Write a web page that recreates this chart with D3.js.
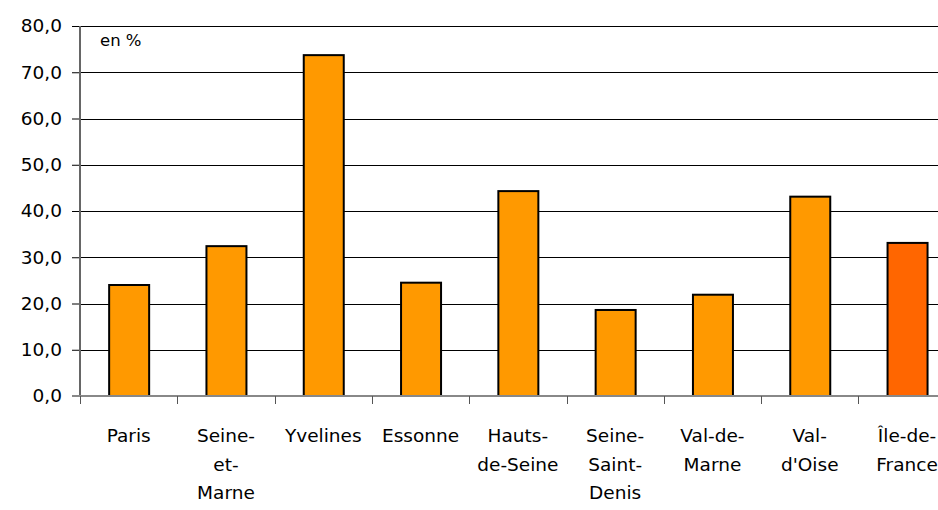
<!DOCTYPE html>
<html>
<head>
<meta charset="utf-8">
<script src="https://cdn.jsdelivr.net/npm/d3@7/dist/d3.min.js"></script>
<style>
body { margin: 0; background: #fff; }
text { font-family: "DejaVu Sans", Verdana, sans-serif; fill: #000; }
</style>
</head>
<body>
<script>
// data
var departements = ['Paris', 'Seine-et-Marne', 'Yvelines', 'Essonne', 'Hauts-de-Seine',
	'Seine-Saint-Denis', 'Val-de-Marne', "Val-d'Oise", 'Île-de-France'];
var labelLines = [['Paris'], ['Seine-', 'et-', 'Marne'], ['Yvelines'], ['Essonne'],
	['Hauts-', 'de-Seine'], ['Seine-', 'Saint-', 'Denis'], ['Val-de-', 'Marne'],
	['Val-', "d'Oise"], ['Île-de-', 'France']];
var valeurs = [24.0, 32.4, 73.7, 24.5, 44.3, 18.6, 21.9, 43.1, 33.1];
var yTicks = [0, 10, 20, 30, 40, 50, 60, 70, 80];

var width = 938, height = 510,
	plotLeft = 80, plotTop = 26, plotBottom = 396,
	band = 97.3;

var svg = d3.select('body').append('svg')
	.attr('width', width)
	.attr('height', height);

var x = d3.scaleBand()
	.domain(departements)
	.range([plotLeft, plotLeft + band * departements.length])
	.padding(0);

var y = d3.scaleLinear()
	.domain([0, 80])
	.range([plotBottom, plotTop]);

var fmt = function(d) { return d3.format('.1f')(d).replace('.', ','); };

// grid lines
svg.append('g')
	.selectAll('line')
	.data(yTicks.filter(function(d) { return d > 0; }))
	.join('line')
	.attr('x1', plotLeft).attr('x2', width)
	.attr('y1', function(d) { return Math.round(y(d)) + 0.5; })
	.attr('y2', function(d) { return Math.round(y(d)) + 0.5; })
	.attr('stroke', '#000')
	.attr('stroke-width', 1);

// y axis
var yAxis = svg.append('g')
	.attr('transform', 'translate(' + plotLeft + ',0)')
	.call(d3.axisLeft(y).tickValues(yTicks).tickFormat(fmt).tickSize(8).tickPadding(10));
yAxis.select('.domain').remove();
yAxis.selectAll('.tick line').attr('stroke', '#000');
yAxis.selectAll('.tick text')
	.attr('font-size', 18.5)
	.attr('font-family', '"DejaVu Sans", Verdana, sans-serif');

// bars
var barW = 40;
svg.append('g')
	.selectAll('rect')
	.data(valeurs)
	.join('rect')
	.attr('x', function(d, i) { return x(departements[i]) + x.bandwidth() / 2 - barW / 2 + 0.5; })
	.attr('y', function(d) { return y(d); })
	.attr('width', barW)
	.attr('height', function(d) { return plotBottom - y(d); })
	.attr('fill', function(d, i) { return i === departements.length - 1 ? '#ff6600' : '#ff9900'; })
	.attr('stroke', '#000')
	.attr('stroke-width', 2);

// axis lines
svg.append('line')
	.attr('x1', plotLeft).attr('x2', plotLeft)
	.attr('y1', plotTop).attr('y2', plotBottom)
	.attr('stroke', '#666').attr('stroke-width', 2);
svg.append('line')
	.attr('x1', plotLeft - 8).attr('x2', width)
	.attr('y1', plotBottom).attr('y2', plotBottom)
	.attr('stroke', '#888').attr('stroke-width', 2);

// x ticks at category boundaries
svg.append('g')
	.selectAll('line')
	.data(departements)
	.join('line')
	.attr('x1', function(d) { return Math.round(x(d)) + 0.5; })
	.attr('x2', function(d) { return Math.round(x(d)) + 0.5; })
	.attr('y1', plotBottom).attr('y2', plotBottom + 8)
	.attr('stroke', '#555').attr('stroke-width', 1);

// category labels
var lab = svg.append('g')
	.selectAll('text')
	.data(departements)
	.join('text')
	.attr('text-anchor', 'middle')
	.attr('font-size', 18.5)
	.attr('transform', function(d) { return 'translate(' + (x(d) + x.bandwidth() / 2) + ',442)'; });
lab.selectAll('tspan')
	.data(function(d, i) { return labelLines[i]; })
	.join('tspan')
	.attr('x', 0)
	.attr('dy', function(d, i) { return i === 0 ? 0 : 28.5; })
	.text(function(d) { return d; });

// unit
svg.append('text')
	.attr('x', 100)
	.attr('y', 46)
	.attr('font-size', 16.5)
	.text('en %');
</script>
</body>
</html>
